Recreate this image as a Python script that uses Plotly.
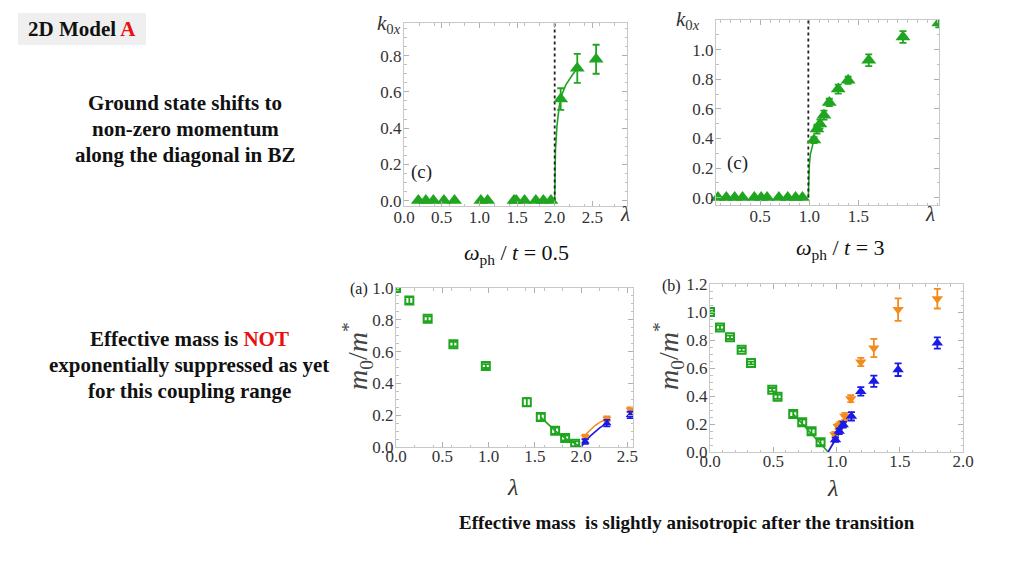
import plotly.graph_objects as go

# page body has an 8px default margin: the figure is placed at (8, 8)
OFF = 8
W, H = 1024 - OFF, 576 - OFF
SERIF = "Liberation Serif, Times New Roman, serif"
GREEN = "#1fa51f"
ORANGE = "#f28c1e"
BLUE = "#1a1ae6"

# ---------------- data ----------------
# (top-left) k0x vs lambda, w_ph/t = 0.5
k05_zero_lam = [0.19, 0.29, 0.39, 0.53, 0.67, 1.02, 1.11, 1.46, 1.49, 1.60, 1.75, 1.85, 1.95]
k05_lam = [2.08, 2.30, 2.55]
k05_val = [0.56, 0.73, 0.78]
k05_err = [0.06, 0.08, 0.08]
k05_fit_lam = [2.0, 2.005, 2.01, 2.03, 2.06, 2.10, 2.15, 2.23, 2.30]
k05_fit_val = [0.0, 0.20, 0.28, 0.41, 0.52, 0.59, 0.64, 0.69, 0.73]
k05_crit = 2.0

# (top-right) k0x vs lambda, w_ph/t = 3
k3_zero_lam = [0.07, 0.155, 0.24, 0.32, 0.44, 0.51, 0.57, 0.69, 0.78, 0.86, 0.93]
k3_lam = [1.047, 1.078, 1.108, 1.149, 1.203, 1.294, 1.395, 1.605, 1.953, 2.318]
k3_val = [0.389, 0.463, 0.497, 0.557, 0.643, 0.733, 0.793, 0.928, 1.085, 1.18]
k3_err = [0.02, 0.03, 0.03, 0.03, 0.025, 0.03, 0.025, 0.04, 0.04, 0.03]
k3_fit_lam = [0.99, 0.992, 0.996, 1.0, 1.01, 1.025, 1.047]
k3_fit_val = [0.0, 0.10, 0.18, 0.22, 0.29, 0.34, 0.39]
k3_crit = 0.99

# (a) m0/m* vs lambda, w_ph/t = 0.5
ma_lam_g = [0.0, 0.144, 0.342, 0.62, 0.97, 1.413, 1.564, 1.719, 1.827, 1.935]
ma_val_g = [1.0, 0.922, 0.807, 0.647, 0.509, 0.282, 0.188, 0.102, 0.056, 0.021]
ma_err_g = [0.01, 0.02, 0.015, 0.015, 0.012, 0.025, 0.02, 0.02, 0.015, 0.015]
ma_fit_g_lam = [1.564, 1.719, 1.827, 1.935, 2.0]
ma_fit_g_val = [0.188, 0.102, 0.056, 0.021, 0.0]
ma_lam_o = [2.043, 2.278, 2.53]
ma_val_o = [0.063, 0.177, 0.234]
ma_err_o = [0.015, 0.015, 0.015]
ma_lam_b = [2.043, 2.278, 2.53]
ma_val_b = [0.035, 0.150, 0.202]
ma_err_b = [0.015, 0.02, 0.02]
ma_fit_o_lam = [2.0, 2.01, 2.03, 2.06, 2.10, 2.15, 2.20, 2.278]
ma_fit_o_val = [0.0, 0.025, 0.055, 0.085, 0.11, 0.135, 0.155, 0.177]
ma_fit_b_lam = [2.0, 2.043, 2.10, 2.15, 2.20, 2.278]
ma_fit_b_val = [0.0, 0.035, 0.07, 0.095, 0.12, 0.15]

# (b) m0/m* vs lambda, w_ph/t = 3
mb_lam_g = [0.0, 0.079, 0.158, 0.25, 0.324, 0.492, 0.534, 0.658, 0.729, 0.803, 0.874]
mb_val_g = [1.0, 0.89, 0.819, 0.731, 0.636, 0.445, 0.395, 0.271, 0.212, 0.148, 0.069]
mb_err_g = [0.01, 0.015, 0.012, 0.012, 0.01, 0.012, 0.015, 0.02, 0.02, 0.02, 0.02]
mb_fit_g_lam = [0.658, 0.934]
mb_fit_g_val = [0.271, 0.0]
mb_lam_o = [0.987, 1.013, 1.04, 1.066, 1.113, 1.192, 1.295, 1.487, 1.797]
mb_val_o = [0.124, 0.183, 0.202, 0.255, 0.381, 0.643, 0.743, 1.017, 1.095]
mb_err_o = [0.02, 0.02, 0.02, 0.025, 0.025, 0.03, 0.065, 0.08, 0.07]
mb_lam_b = [0.992, 1.021, 1.053, 1.118, 1.192, 1.295, 1.487, 1.797]
mb_val_b = [0.088, 0.148, 0.195, 0.255, 0.433, 0.505, 0.588, 0.779]
mb_err_b = [0.015, 0.02, 0.02, 0.03, 0.03, 0.04, 0.045, 0.04]
mb_fit_o_lam = [0.934, 1.08]
mb_fit_o_val = [0.0, 0.26]
mb_fit_b_lam = [0.934, 1.09]
mb_fit_b_val = [0.0, 0.235]

# ---------------- helpers ----------------
def px(x):
    return (x - OFF) / W

def py(y):
    return 1 - (y - OFF) / H

fig = go.Figure()

def add(axn, **kw):
    xa = "x" if axn == 1 else f"x{axn}"
    ya = "y" if axn == 1 else f"y{axn}"
    fig.add_trace(go.Scatter(xaxis=xa, yaxis=ya, showlegend=False, hoverinfo="skip", **kw))

def err(arr, color):
    return dict(type="data", array=arr, visible=True, color=color, thickness=1.8, width=3.5)

TRI = 13
# panel 1
add(1, x=k05_fit_lam, y=k05_fit_val, mode="lines", line=dict(color=GREEN, width=1.6))
add(1, x=[k05_crit, k05_crit], y=[0, 0.98], mode="lines", line=dict(color="#222", width=1.8, dash="dot"))
add(1, x=k05_zero_lam, y=[0] * len(k05_zero_lam), mode="markers",
    marker=dict(symbol="triangle-up", size=TRI, color=GREEN), cliponaxis=False)
add(1, x=k05_lam, y=k05_val, mode="markers", error_y=err(k05_err, GREEN),
    marker=dict(symbol="triangle-up", size=TRI, color=GREEN))

# panel 2
add(2, x=k3_fit_lam, y=k3_fit_val, mode="lines", line=dict(color=GREEN, width=1.6))
add(2, x=[k3_crit, k3_crit], y=[0, 1.2], mode="lines", line=dict(color="#222", width=1.8, dash="dot"))
add(2, x=k3_zero_lam, y=[0] * len(k3_zero_lam), mode="markers",
    marker=dict(symbol="triangle-up", size=TRI, color=GREEN), cliponaxis=False)
add(2, x=k3_lam, y=k3_val, mode="markers", error_y=err(k3_err, GREEN),
    marker=dict(symbol="triangle-up", size=TRI, color=GREEN))

# panel 3 (a)
add(3, x=ma_fit_g_lam, y=ma_fit_g_val, mode="lines", line=dict(color=GREEN, width=1.6))
add(3, x=ma_fit_o_lam, y=ma_fit_o_val, mode="lines", line=dict(color=ORANGE, width=1.6))
add(3, x=ma_fit_b_lam, y=ma_fit_b_val, mode="lines", line=dict(color=BLUE, width=1.6))
add(3, x=ma_lam_g, y=ma_val_g, mode="markers", error_y=err(ma_err_g, GREEN),
    marker=dict(symbol="square-open", size=8, color=GREEN, line=dict(width=2)))
add(3, x=ma_lam_o, y=ma_val_o, mode="markers", error_y=err(ma_err_o, ORANGE),
    marker=dict(symbol="triangle-down", size=8, color=ORANGE))
add(3, x=ma_lam_b, y=ma_val_b, mode="markers", error_y=err(ma_err_b, BLUE),
    marker=dict(symbol="triangle-up", size=8, color=BLUE))

# panel 4 (b)
add(4, x=mb_fit_g_lam, y=mb_fit_g_val, mode="lines", line=dict(color=GREEN, width=1.6))
add(4, x=mb_fit_o_lam, y=mb_fit_o_val, mode="lines", line=dict(color=ORANGE, width=1.6))
add(4, x=mb_fit_b_lam, y=mb_fit_b_val, mode="lines", line=dict(color=BLUE, width=1.6))
add(4, x=mb_lam_g, y=mb_val_g, mode="markers", error_y=err(mb_err_g, GREEN),
    marker=dict(symbol="square-open", size=8, color=GREEN, line=dict(width=2)))
add(4, x=mb_lam_o, y=mb_val_o, mode="markers", error_y=err(mb_err_o, ORANGE),
    marker=dict(symbol="triangle-down", size=10, color=ORANGE))
add(4, x=mb_lam_b, y=mb_val_b, mode="markers", error_y=err(mb_err_b, BLUE),
    marker=dict(symbol="triangle-up", size=10, color=BLUE))

FRAME = "#c8c8c8"
TICKFONT = dict(family=SERIF, size=17, color="#333")

def axis(domain, rng, tickvals, anchor, standoff=0):
    return dict(domain=domain, range=rng, tickvals=tickvals, tickformat=".1f",
                showline=True, linecolor=FRAME, linewidth=1, mirror="ticks",
                ticks="inside", ticklen=5, tickcolor="#b0b0b0", showgrid=False,
                zeroline=False, tickfont=TICKFONT, anchor=anchor, fixedrange=True,
                automargin=False, ticklabelstandoff=standoff,
                minor=dict(ticks="inside", ticklen=2.5, tickcolor="#c0c0c0", nticks=5))

layout = dict(
    width=W, height=H, autosize=False, paper_bgcolor="white", plot_bgcolor="white",
    margin=dict(l=0, r=0, t=0, b=0, pad=0, autoexpand=False),
    xaxis=axis([px(404), px(627)], [0.0, 2.96], [0, 0.5, 1.0, 1.5, 2.0, 2.5], "y", -4),
    yaxis=axis([py(206), py(23)], [-0.03, 0.98], [0, 0.2, 0.4, 0.6, 0.8], "x", -2),
    xaxis2=axis([px(716), px(939)], [0.05, 2.32], [0.5, 1.0, 1.5], "y2", -4),
    yaxis2=axis([py(205), py(20)], [-0.05, 1.2], [0, 0.2, 0.4, 0.6, 0.8, 1.0], "x2", -2),
    xaxis3=axis([px(396), px(633)], [0, 2.56], [0, 0.5, 1.0, 1.5, 2.0, 2.5], "y3", -6),
    yaxis3=axis([py(447), py(288)], [0, 1.0], [0, 0.2, 0.4, 0.6, 0.8, 1.0], "x3", -2),
    xaxis4=axis([px(710), px(963)], [0, 2.0], [0, 0.5, 1.0, 1.5, 2.0], "y4", -6),
    yaxis4=axis([py(452), py(284)], [0, 1.2], [0, 0.2, 0.4, 0.6, 0.8, 1.0, 1.2], "x4", -2),
)
fig.update_layout(**layout)

def ann(x, y, text, size=16, color="#111", bold=False, angle=0, xanchor="center", family=SERIF):
    if bold:
        text = f"<b>{text}</b>"
    fig.add_annotation(x=px(x), y=py(y), xref="paper", yref="paper", text=text,
                       showarrow=False, xanchor=xanchor, yanchor="middle", textangle=angle,
                       font=dict(family=family, size=size, color=color))

# header box
fig.add_shape(type="rect", xref="paper", yref="paper", x0=px(18), x1=px(146), y0=py(45), y1=py(13),
              fillcolor="#efefef", line=dict(width=0), layer="below")
ann(82, 29, "2D Model <span style='color:#e81010'>A</span>", size=21, bold=True)

# left texts
for i, t in enumerate(["Ground state shifts to", "non-zero momentum", "along the diagonal in BZ"]):
    ann(185, 103 + 26 * i, t, size=21, bold=True)
for i, t in enumerate(["Effective mass is <span style='color:#e81010'>NOT</span>",
                       "exponentially suppressed as yet", "for this coupling range"]):
    ann(189, 339 + 26 * i, t, size=21, bold=True)

ann(516, 254, "<i>ω</i><sub>ph</sub> / <i>t</i> = 0.5", size=22)
ann(840, 249, "<i>ω</i><sub>ph</sub> / <i>t</i> = 3", size=22)
ann(687, 522, "Effective mass  is slightly anisotropic after the transition", size=19, bold=True)

# axis labels
K = "<i>k</i><sub>0<i>x</i></sub>"
ann(389, 24, K, size=21, color="#333")
ann(688, 20, K, size=21, color="#333")
ann(625, 214, "<i>λ</i>", size=21, color="#333")
ann(930, 214, "<i>λ</i>", size=21, color="#333")
ann(421, 172, "(c)", size=19, color="#222")
ann(737, 163, "(c)", size=19, color="#222")

M = "<i>m</i><sub>0</sub>/<i>m</i><sup>*</sup>"
ann(357, 356, M, size=28, color="#444", angle=-90)
ann(668, 356, M, size=28, color="#444", angle=-90)
ann(359, 289, "(a)", size=16, color="#222")
ann(671, 286, "(b)", size=16, color="#222")
ann(512, 487, "<i>λ</i>", size=24, color="#333")
ann(832, 488, "<i>λ</i>", size=24, color="#333")

fig.write_html("out.html")
